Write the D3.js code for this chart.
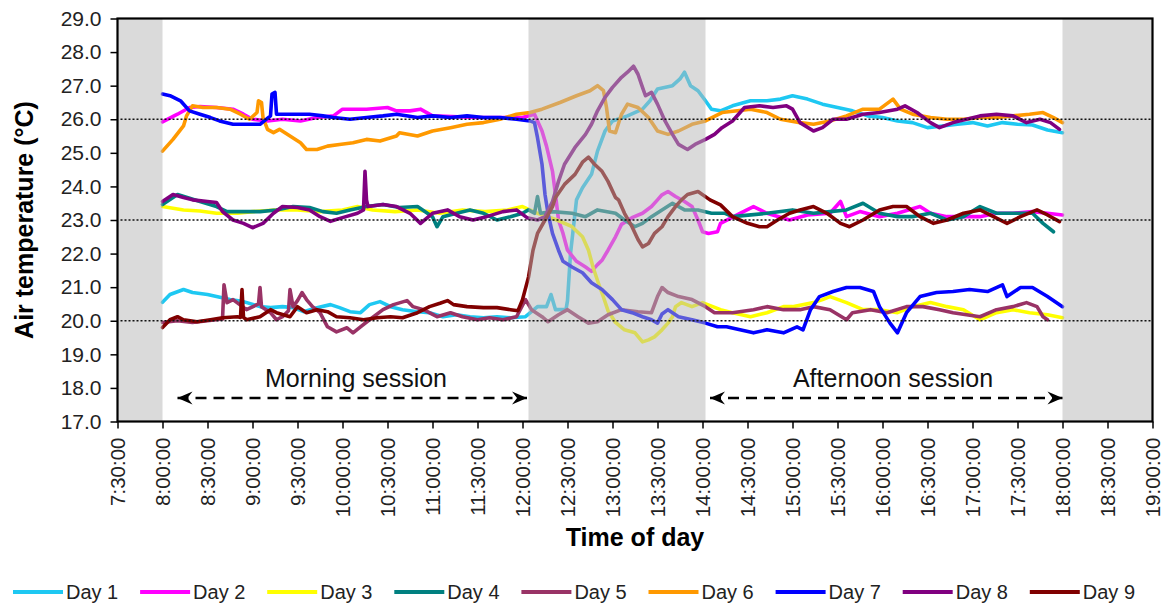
<!DOCTYPE html>
<html><head><meta charset="utf-8">
<script src="https://cdn.jsdelivr.net/npm/d3@7"></script>
<style>
body{margin:0;background:#fff;}
svg text{font-family:"Liberation Sans",Arial,sans-serif;}
</style></head><body>
<svg id="chart" width="1165" height="606"></svg>
<script>
// ---------------- DATA ----------------
const seriesNames = ["Day 1","Day 2","Day 3","Day 4","Day 5","Day 6","Day 7","Day 8","Day 9"];
const seriesColors = ["#1EC8F2","#FF00FF","#FFFF00","#008080","#993366","#FF9900","#0000FF","#800080","#800000"];

const day1 = [["8:00",20.55],["8:05",20.78],["8:14",20.93],["8:20",20.84],["8:30",20.78],["8:36",20.72],["8:45",20.63],["8:54",20.57],["9:05",20.42],["9:12",20.39],["9:20",20.42],["9:27",20.39],["9:34",20.27],["9:43",20.39],["9:52",20.48],["9:58",20.39],["10:05",20.27],["10:12",20.24],["10:18",20.48],["10:25",20.57],["10:32",20.42],["10:40",20.33],["10:50",20.27],["10:58",20.24],["11:07",20.12],["11:16",20.18],["11:25",20.12],["11:34",20.09],["11:43",20.12],["11:52",20.09],["12:02",20.12],["12:10",20.42],["12:16",20.42],["12:19",20.78],["12:22",20.33],["12:29",20.33],["12:30",20.6],["12:32",22.0],["12:36",23.6],["12:40",23.96],["12:46",24.36],["12:50",25.05],["12:55",25.65],["13:00",25.95],["13:10",26.1],["13:20",26.3],["13:25",26.55],["13:30",26.9],["13:40",27.0],["13:45",27.2],["13:48",27.4],["13:52",27.0],["13:57",26.85],["14:02",26.55],["14:06",26.3],["14:12",26.25],["14:20",26.4],["14:32",26.55],["14:43",26.55],["14:52",26.6],["15:00",26.7],["15:10",26.6],["15:20",26.45],["15:30",26.35],["15:40",26.25],["15:50",26.1],["16:00",26.05],["16:10",25.95],["16:20",25.9],["16:30",25.75],["16:40",25.8],["16:50",25.85],["17:00",25.9],["17:10",25.8],["17:20",25.9],["17:30",25.85],["17:40",25.83],["17:50",25.68],["18:00",25.6]];

const day2 = [["8:00",25.92],["8:10",26.15],["8:18",26.35],["8:25",26.38],["8:36",26.35],["8:47",26.3],["8:54",26.15],["9:00",26.0],["9:10",25.95],["9:20",26.0],["9:32",25.95],["9:43",26.05],["9:54",26.1],["10:00",26.3],["10:16",26.3],["10:30",26.35],["10:36",26.25],["10:45",26.25],["10:52",26.3],["11:00",26.1],["11:30",26.05],["12:00",26.05],["12:08",26.15],["12:13",25.65],["12:16",25.2],["12:20",24.45],["12:22",23.75],["12:24",23.0],["12:27",22.6],["12:30",22.1],["12:36",21.77],["12:42",21.6],["12:46",21.47],["12:50",21.67],["12:53",21.8],["12:57",22.1],["13:02",22.5],["13:06",22.87],["13:13",23.07],["13:20",23.2],["13:26",23.4],["13:30",23.6],["13:33",23.75],["13:37",23.85],["13:42",23.7],["13:48",23.55],["13:53",23.4],["13:57",23.0],["14:00",22.65],["14:04",22.6],["14:10",22.65],["14:12",22.9],["14:25",23.2],["14:34",23.4],["14:43",23.2],["14:58",23.0],["15:10",23.15],["15:25",23.2],["15:32",23.55],["15:36",23.1],["15:45",23.25],["15:58",23.1],["16:10",23.2],["16:25",23.4],["16:32",23.2],["16:43",23.1],["16:56",23.1],["17:05",23.1],["17:16",23.2],["17:27",23.2],["17:40",23.25],["17:50",23.2],["18:00",23.15]];

const day3 = [["8:00",23.4],["8:14",23.3],["8:25",23.27],["8:36",23.2],["8:50",23.2],["9:00",23.25],["9:15",23.3],["9:30",23.3],["9:45",23.25],["10:00",23.3],["10:10",23.4],["10:20",23.3],["10:35",23.25],["10:50",23.3],["11:05",23.2],["11:20",23.3],["11:35",23.25],["11:50",23.3],["12:00",23.4],["12:10",23.2],["12:23",23.0],["12:33",22.8],["12:40",22.5],["12:44",22.1],["12:47",21.6],["12:50",21.2],["12:54",20.7],["12:57",20.3],["13:02",19.95],["13:08",19.73],["13:15",19.64],["13:20",19.37],["13:24",19.43],["13:28",19.52],["13:33",19.73],["13:37",19.93],["13:40",20.12],["13:42",20.42],["13:46",20.54],["13:53",20.42],["14:00",20.54],["14:12",20.33],["14:20",20.24],["14:32",20.12],["14:43",20.24],["14:54",20.42],["15:00",20.42],["15:14",20.54],["15:20",20.63],["15:25",20.72],["15:36",20.54],["15:47",20.33],["15:58",20.33],["16:10",20.24],["16:20",20.42],["16:32",20.54],["16:43",20.42],["16:54",20.33],["17:05",20.03],["17:16",20.24],["17:27",20.33],["17:38",20.24],["17:50",20.18],["18:00",20.09]];

const day4 = [["8:00",23.46],["8:10",23.76],["8:25",23.55],["8:36",23.4],["8:43",23.25],["8:54",23.25],["9:05",23.25],["9:16",23.3],["9:27",23.4],["9:38",23.37],["9:47",23.25],["9:56",23.2],["10:05",23.3],["10:16",23.4],["10:27",23.46],["10:38",23.37],["10:50",23.4],["11:00",23.1],["11:03",22.8],["11:07",23.1],["11:16",23.2],["11:25",23.3],["11:34",23.2],["11:43",23.0],["11:52",23.1],["12:00",23.2],["12:04",23.3],["12:08",23.2],["12:10",23.7],["12:12",23.2],["12:20",23.25],["12:33",23.2],["12:42",23.1],["12:50",23.3],["13:02",23.2],["13:08",23.0],["13:15",22.8],["13:20",22.9],["13:26",23.1],["13:33",23.3],["13:40",23.5],["13:48",23.3],["13:57",23.3],["14:06",23.2],["14:15",23.2],["14:20",23.1],["14:43",23.2],["15:00",23.3],["15:14",23.2],["15:25",23.25],["15:36",23.3],["15:47",23.5],["15:58",23.2],["16:10",23.1],["16:20",23.1],["16:32",23.2],["16:43",23.0],["16:54",23.1],["17:05",23.4],["17:16",23.2],["17:27",23.2],["17:40",23.2],["17:47",22.9],["17:54",22.65]];

const day5 = [["8:00",19.95],["8:10",20.0],["8:20",19.95],["8:30",20.0],["8:40",20.05],["8:41",21.07],["8:43",20.54],["8:47",20.63],["8:56",20.33],["9:04",20.5],["9:05",20.99],["9:06",20.42],["9:12",20.24],["9:16",20.03],["9:20",20.12],["9:24",20.3],["9:25",20.93],["9:27",20.42],["9:30",20.6],["9:33",20.84],["9:36",20.63],["9:40",20.42],["9:45",20.24],["9:50",19.82],["9:56",19.67],["10:03",19.79],["10:07",19.64],["10:12",19.82],["10:18",20.03],["10:27",20.33],["10:34",20.48],["10:43",20.6],["10:47",20.42],["10:54",20.33],["11:03",20.12],["11:12",20.24],["11:20",20.12],["11:30",20.03],["11:38",20.09],["11:47",20.03],["11:56",20.12],["12:02",20.63],["12:06",20.33],["12:13",20.12],["12:17",19.97],["12:24",20.18],["12:30",20.33],["12:37",20.12],["12:44",19.93],["12:50",19.97],["12:57",20.18],["13:06",20.33],["13:17",20.27],["13:26",20.24],["13:30",20.72],["13:33",20.99],["13:37",20.84],["13:44",20.72],["13:53",20.63],["14:02",20.42],["14:08",20.24],["14:20",20.24],["14:34",20.33],["14:43",20.42],["14:54",20.33],["15:05",20.33],["15:14",20.42],["15:25",20.33],["15:36",20.03],["15:40",20.24],["15:52",20.33],["16:03",20.24],["16:16",20.42],["16:27",20.42],["16:38",20.33],["16:47",20.24],["16:56",20.18],["17:05",20.12],["17:16",20.33],["17:27",20.42],["17:36",20.54],["17:43",20.42],["17:47",20.12],["17:50",20.03]];

const day6 = [["8:00",25.05],["8:07",25.4],["8:14",25.8],["8:16",26.1],["8:20",26.4],["8:27",26.35],["8:36",26.35],["8:45",26.3],["8:52",26.15],["8:58",26.0],["9:03",26.2],["9:04",26.55],["9:06",26.5],["9:07",26.05],["9:10",25.7],["9:14",25.6],["9:18",25.7],["9:25",25.5],["9:32",25.3],["9:36",25.1],["9:43",25.1],["9:50",25.2],["9:58",25.25],["10:07",25.3],["10:16",25.4],["10:25",25.35],["10:36",25.5],["10:38",25.6],["10:50",25.5],["11:00",25.65],["11:12",25.75],["11:23",25.85],["11:34",25.9],["11:45",26.0],["11:56",26.15],["12:05",26.2],["12:13",26.3],["12:25",26.5],["12:36",26.7],["12:45",26.85],["12:50",27.0],["12:54",26.85],["12:56",26.35],["12:58",25.65],["13:02",25.6],["13:06",26.15],["13:10",26.45],["13:17",26.35],["13:24",26.05],["13:30",25.65],["13:37",25.55],["13:44",25.65],["13:53",25.85],["14:02",25.95],["14:13",26.2],["14:32",26.3],["14:43",26.2],["14:52",26.0],["15:05",25.9],["15:14",25.85],["15:25",25.95],["15:36",26.1],["15:47",26.3],["15:58",26.3],["16:07",26.6],["16:12",26.3],["16:20",26.15],["16:32",26.05],["16:43",26.0],["16:54",26.0],["17:05",26.05],["17:16",26.05],["17:27",26.1],["17:38",26.15],["17:47",26.2],["17:54",26.05],["18:00",25.9]];

const day7 = [["8:00",26.75],["8:05",26.7],["8:12",26.55],["8:18",26.25],["8:25",26.15],["8:32",26.05],["8:38",25.95],["8:47",25.85],["8:56",25.85],["9:05",25.85],["9:12",26.1],["9:13",26.75],["9:15",26.8],["9:16",26.15],["9:25",26.15],["9:38",26.15],["9:47",26.1],["9:54",26.05],["10:05",26.0],["10:16",26.05],["10:27",26.1],["10:36",26.15],["10:50",26.05],["11:00",26.1],["11:12",26.05],["11:23",26.1],["11:34",26.05],["11:45",26.05],["11:56",26.0],["12:05",25.95],["12:08",25.9],["12:10",25.45],["12:13",24.66],["12:15",23.76],["12:17",23.2],["12:20",22.6],["12:24",22.1],["12:27",21.77],["12:33",21.6],["12:40",21.43],["12:46",21.13],["12:53",20.93],["13:00",20.63],["13:06",20.33],["13:13",20.24],["13:20",20.12],["13:26",20.03],["13:30",19.93],["13:33",20.2],["13:37",20.33],["13:44",20.12],["13:53",20.03],["14:02",19.93],["14:10",19.82],["14:16",19.82],["14:25",19.73],["14:34",19.64],["14:43",19.73],["14:54",19.64],["15:03",19.82],["15:07",19.73],["15:12",20.33],["15:18",20.72],["15:27",20.87],["15:36",20.99],["15:45",20.99],["15:54",20.87],["15:58",20.42],["16:05",19.93],["16:10",19.64],["16:16",20.24],["16:25",20.72],["16:36",20.84],["16:47",20.87],["16:58",20.93],["17:10",20.87],["17:20",21.07],["17:23",20.72],["17:32",20.99],["17:40",20.99],["17:50",20.72],["18:00",20.42]];

const day8 = [["8:00",23.55],["8:07",23.76],["8:14",23.67],["8:20",23.6],["8:30",23.55],["8:36",23.52],["8:40",23.25],["8:47",23.0],["8:54",22.9],["9:00",22.77],["9:07",22.9],["9:14",23.2],["9:20",23.4],["9:30",23.37],["9:38",23.3],["9:45",23.1],["9:52",22.96],["10:00",23.07],["10:10",23.2],["10:14",23.3],["10:15",24.45],["10:16",23.6],["10:17",23.4],["10:27",23.46],["10:36",23.4],["10:45",23.2],["10:52",22.9],["11:00",23.2],["11:10",23.3],["11:18",23.1],["11:27",23.0],["11:36",23.1],["11:47",23.25],["11:56",23.3],["12:03",23.07],["12:10",23.0],["12:15",23.1],["12:20",23.55],["12:24",24.15],["12:28",24.66],["12:35",25.16],["12:42",25.55],["12:46",25.85],["12:50",26.25],["12:55",26.65],["13:00",26.95],["13:06",27.25],["13:10",27.4],["13:14",27.58],["13:17",27.34],["13:20",26.95],["13:22",26.7],["13:26",26.8],["13:30",26.45],["13:35",25.95],["13:40",25.55],["13:44",25.25],["13:50",25.1],["13:55",25.25],["14:02",25.4],["14:08",25.55],["14:13",25.75],["14:20",25.95],["14:28",26.35],["14:38",26.4],["14:47",26.35],["14:56",26.4],["15:00",26.3],["15:05",25.9],["15:14",25.65],["15:20",25.75],["15:27",26.0],["15:36",26.0],["15:47",26.15],["15:58",26.2],["16:10",26.3],["16:15",26.4],["16:23",26.2],["16:32",25.9],["16:38",25.75],["16:47",25.9],["16:56",26.0],["17:05",26.1],["17:16",26.15],["17:27",26.1],["17:36",25.9],["17:45",26.0],["17:52",25.9],["17:58",25.7]];

const day9 = [["8:00",19.8],["8:05",20.03],["8:10",20.12],["8:14",20.03],["8:23",19.97],["8:32",20.03],["8:40",20.09],["8:50",20.12],["8:52",20.1],["8:53",20.93],["8:54",20.1],["8:56",20.03],["9:05",20.12],["9:12",20.33],["9:16",20.24],["9:25",20.12],["9:30",20.42],["9:36",20.24],["9:43",20.33],["9:50",20.27],["9:56",20.12],["10:05",20.09],["10:14",20.03],["10:23",20.09],["10:32",20.12],["10:40",20.09],["10:50",20.24],["10:58",20.42],["11:05",20.52],["11:10",20.6],["11:14",20.48],["11:23",20.42],["11:34",20.39],["11:43",20.39],["11:52",20.33],["11:57",20.3],["12:00",20.63],["12:04",21.3],["12:07",22.1],["12:10",22.6],["12:15",23.0],["12:20",23.4],["12:22",23.67],["12:28",24.06],["12:35",24.36],["12:40",24.72],["12:44",24.87],["12:48",24.66],["12:53",24.45],["12:57",24.15],["13:02",23.67],["13:04",23.6],["13:08",23.2],["13:13",22.8],["13:17",22.42],["13:20",22.2],["13:24",22.3],["13:28",22.6],["13:33",22.8],["13:37",23.1],["13:42",23.4],["13:46",23.6],["13:50",23.76],["13:57",23.85],["14:05",23.6],["14:12",23.45],["14:20",23.1],["14:30",22.9],["14:38",22.8],["14:43",22.8],["14:50",23.0],["14:58",23.2],["15:05",23.3],["15:14",23.4],["15:23",23.2],["15:32",22.9],["15:38",22.8],["15:47",23.0],["15:58",23.3],["16:07",23.4],["16:16",23.4],["16:25",23.1],["16:34",22.9],["16:43",23.0],["16:54",23.2],["17:05",23.3],["17:14",23.1],["17:23",22.9],["17:32",23.1],["17:43",23.3],["17:50",23.15],["17:58",22.95]];

const seriesData = [day1, day2, day3, day4, day5, day6, day7, day8, day9];

const yTickValues = [17,18,19,20,21,22,23,24,25,26,27,28,29];
const xTickLabels = ["7:30","8:00","8:30","9:00","9:30","10:00","10:30","11:00","11:30","12:00","12:30","13:00","13:30","14:00","14:30","15:00","15:30","16:00","16:30","17:00","17:30","18:00","18:30","19:00"];
const shadedPeriods = [["7:30","8:00"],["12:04","14:02"],["18:00","19:00"]];
const referenceTemps = [20, 23, 26];
const sessionNames = ["Morning session", "Afternoon session"];
const sessionSpans = [["8:10","12:03"],["14:05","18:00"]];
const sessionLabelTimes = ["10:09","16:07"];
const yTitle = "Air temperature (°C)";
const xTitle = "Time of day";

// ---------------- DRAW ----------------
const toMin = s => { const [h, m] = s.split(":").map(Number); return h * 60 + m; };
const svg = d3.select("#chart");
svg.append("rect").attr("width",1165).attr("height",606).attr("fill","#fff");

const L = 117.5, R = 1152.5, T = 18.5, B = 421.5;
const x = d3.scaleLinear().domain([toMin(xTickLabels[0]), toMin(xTickLabels[xTickLabels.length-1])]).range([L, R]);
const y = d3.scaleLinear().domain([17, 29]).range([B, T]);

const line = d3.line().x(d => x(toMin(d[0]))).y(d => y(d[1]));

const gLines = svg.append("g");
seriesData.forEach((s, i) => {
  gLines.append("path").datum(s)
    .attr("d", line)
    .attr("fill", "none")
    .attr("stroke", seriesColors[i])
    .attr("stroke-width", 3.6)
    .attr("stroke-linejoin", "round")
    .attr("stroke-linecap", "round");
});

// translucent shading over the lines
svg.append("g").selectAll("rect").data(shadedPeriods).join("rect")
  .attr("x", d => x(toMin(d[0])))
  .attr("width", d => x(toMin(d[1])) - x(toMin(d[0])))
  .attr("y", T).attr("height", B - T)
  .attr("fill", "#b6b6b6").attr("fill-opacity", 0.5);

// dotted reference lines
svg.append("g").selectAll("line").data(referenceTemps).join("line")
  .attr("x1", L + 3).attr("x2", R - 2)
  .attr("y1", d => y(d)).attr("y2", d => y(d))
  .attr("stroke", "#111").attr("stroke-width", 1.4)
  .attr("stroke-dasharray", "2,2");

// axes
const yAxis = d3.axisLeft(y).tickValues(yTickValues).tickFormat(d3.format(".1f"))
  .tickSize(7).tickPadding(9).tickSizeOuter(0);
const gy = svg.append("g").attr("transform", `translate(${L},0)`).call(yAxis);
gy.select(".domain").remove();
gy.selectAll(".tick line").attr("stroke", "#000").attr("stroke-width", 1.5);
gy.selectAll(".tick text").attr("font-size", 21).attr("fill", "#222")
  .attr("font-family", "'Liberation Sans',Arial,sans-serif");

const xAxis = d3.axisBottom(x).tickValues(xTickLabels.map(toMin))
  .tickFormat(m => `${Math.floor(m/60)}:${String(m%60).padStart(2,"0")}:00`)
  .tickSize(7).tickSizeOuter(0);
const gx = svg.append("g").attr("transform", `translate(0,${B})`).call(xAxis);
gx.select(".domain").remove();
gx.selectAll(".tick line").attr("stroke", "#000").attr("stroke-width", 1.5);
gx.selectAll(".tick text")
  .attr("font-size", 20.5).attr("fill", "#222")
  .attr("font-family", "'Liberation Sans',Arial,sans-serif")
  .attr("transform", "rotate(-90)")
  .attr("x", -16).attr("y", 0).attr("dy", "0.36em")
  .style("text-anchor", "end");

// frame
svg.append("rect").attr("x", L).attr("y", T).attr("width", R - L).attr("height", B - T)
  .attr("fill", "none").attr("stroke", "#000").attr("stroke-width", 2.2);

// titles
svg.append("text").attr("x", (L + R) / 2).attr("y", 546)
  .attr("text-anchor", "middle").attr("font-size", 25).attr("font-weight", "bold")
  .text(xTitle);
svg.append("text").attr("transform", `translate(33,${(T + B) / 2}) rotate(-90)`)
  .attr("text-anchor", "middle").attr("font-size", 25).attr("font-weight", "bold")
  .text(yTitle);

// session annotations
const defs = svg.append("defs");
defs.append("marker").attr("id", "arrowHead")
  .attr("viewBox", "-16 -8 18 16").attr("refX", 0).attr("refY", 0)
  .attr("markerUnits", "userSpaceOnUse").attr("markerWidth", 18).attr("markerHeight", 16)
  .attr("orient", "auto-start-reverse")
  .append("path").attr("d", "M0,0 L-15,-6.5 L-10,0 L-15,6.5 Z").attr("fill", "#000");

const gSess = svg.append("g");
sessionNames.forEach((name, i) => {
  const [a, b] = sessionSpans[i];
  gSess.append("line")
    .attr("x1", x(toMin(a))).attr("x2", x(toMin(b)))
    .attr("y1", 398).attr("y2", 398)
    .attr("stroke", "#000").attr("stroke-width", 2.6)
    .attr("stroke-dasharray", "11,7")
    .attr("marker-start", "url(#arrowHead)").attr("marker-end", "url(#arrowHead)");
  gSess.append("text").attr("x", x(toMin(sessionLabelTimes[i]))).attr("y", 387)
    .attr("text-anchor", "middle").attr("font-size", 25).attr("fill", "#111")
    .text(name);
});

// legend
const gLeg = svg.append("g");
seriesNames.forEach((name, i) => {
  const g = gLeg.append("g").attr("transform", `translate(${13 + i * 127.1},592)`);
  g.append("line").attr("x1", 0).attr("x2", 50).attr("y1", 0).attr("y2", 0)
    .attr("stroke", seriesColors[i]).attr("stroke-width", 4);
  g.append("text").attr("x", 53).attr("y", 0).attr("dy", "0.36em")
    .attr("font-size", 20).attr("fill", "#222").text(name);
});
</script>
</body></html>
